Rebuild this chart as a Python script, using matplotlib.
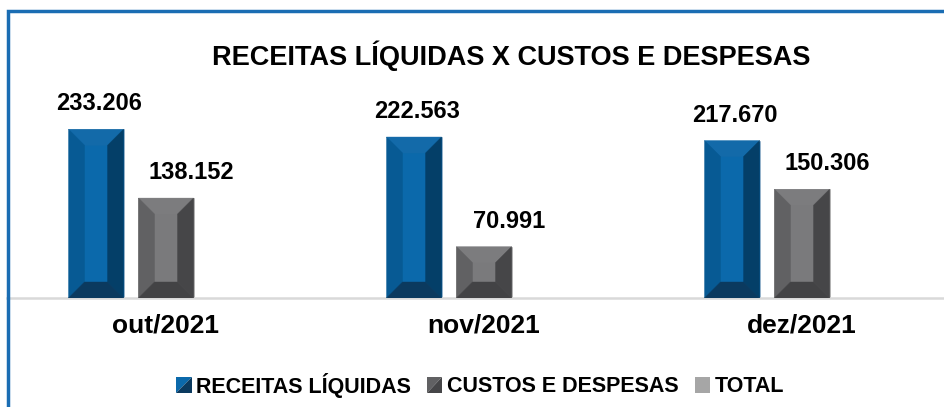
import numpy as np
import matplotlib
matplotlib.use("Agg")
import matplotlib.pyplot as plt
from matplotlib.patches import Polygon, Rectangle
from matplotlib.legend_handler import HandlerPatch

plt.rcParams['font.family'] = ['Liberation Sans', 'DejaVu Sans']
plt.rcParams['font.weight'] = 'bold'

# dados
meses = ['out/2021', 'nov/2021', 'dez/2021']
receitas = [233.206, 222.563, 217.670]
custos = [138.152, 70.991, 150.306]
series = ['RECEITAS LÍQUIDAS', 'CUSTOS E DESPESAS', 'TOTAL']
titulo = 'RECEITAS LÍQUIDAS X CUSTOS E DESPESAS'

# cores das faces do bisel: centro, topo, esquerda, direita, base
cores_azul = ['#0b69ab', '#136aa9', '#075a94', '#043f68', '#0b3a5f']
cores_cinza = ['#7a7a7c', '#7c7c7e', '#616163', '#464648', '#434345']
cor_total = '#a6a6a6'

W, H = 945, 407
fig = plt.figure(figsize=(W / 100, H / 100), dpi=100)

# moldura azul (cortada a direita e embaixo)
fig.patches.append(Rectangle((8 / W, -0.1), 1.2, (H - 11) / H + 0.1,
                             transform=fig.transFigure, fill=False,
                             edgecolor='#1a6db3', linewidth=2.5))

ax = fig.add_axes([7 / W, 109 / H, 954 / W, 218 / H])
ax.set_xlim(-0.5, 2.5)
ax.set_ylim(0, 301.4)
for s in ['top', 'right', 'left']:
    ax.spines[s].set_visible(False)
ax.spines['bottom'].set_color('#d9d9d9')
ax.spines['bottom'].set_linewidth(1.8)
ax.set_yticks([])
x = np.arange(len(meses))
ax.set_xticks(x)
ax.set_xticklabels(meses, fontsize=19, fontweight='bold')
ax.tick_params(axis='x', length=0, pad=11)

passo = 0.22
largura = 0.173
b_azul = ax.bar(x - passo, receitas, largura, color=cores_azul[0],
                edgecolor='#9fb3c8', linewidth=0.5)
b_cinza = ax.bar(x, custos, largura, color=cores_cinza[0],
                 edgecolor='#b0b0b0', linewidth=0.5)


def bisel(ax, barra, cores, b=16):
    # desenha as faces chanfradas em pixels e volta para dados
    x0, y0 = barra.get_x(), barra.get_y()
    x1, y1 = x0 + barra.get_width(), y0 + barra.get_height()
    (px0, py0), (px1, py1) = ax.transData.transform([(x0, y0), (x1, y1)])
    faces = [
        [(px0 + b, py1 - b), (px1 - b, py1 - b), (px1 - b, py0 + b), (px0 + b, py0 + b)],
        [(px0, py1), (px1, py1), (px1 - b, py1 - b), (px0 + b, py1 - b)],
        [(px0, py0), (px0, py1), (px0 + b, py1 - b), (px0 + b, py0 + b)],
        [(px1, py0), (px1, py1), (px1 - b, py1 - b), (px1 - b, py0 + b)],
        [(px0, py0), (px1, py0), (px1 - b, py0 + b), (px0 + b, py0 + b)],
    ]
    inv = ax.transData.inverted()
    for pts, c in zip(faces, cores):
        ax.add_patch(Polygon(inv.transform(pts), closed=True, facecolor=c,
                             edgecolor=c, linewidth=0.3, zorder=3))


for barra in b_azul:
    bisel(ax, barra, cores_azul)
for barra in b_cinza:
    bisel(ax, barra, cores_cinza)

for xi, v in zip(x - passo, receitas):
    ax.annotate(f'{v:.3f}', (xi, v), xytext=(2, 10), textcoords='offset points',
                ha='center', va='bottom', fontsize=17, fontweight='bold')
for xi, v in zip(x, custos):
    ax.annotate(f'{v:.3f}', (xi, v), xytext=(18, 10), textcoords='offset points',
                ha='center', va='bottom', fontsize=17, fontweight='bold')

fig.text(511 / W, 1 - 56 / H, titulo, ha='center', va='center',
         fontsize=19.5, fontweight='bold')


class HandlerDiagonal(HandlerPatch):
    def __init__(self, c1, c2):
        super().__init__()
        self.c1, self.c2 = c1, c2

    def create_artists(self, legend, orig_handle, xdescent, ydescent,
                       width, height, fontsize, trans):
        x0, y0 = -xdescent, -ydescent
        t1 = Polygon([(x0, y0), (x0, y0 + height), (x0 + width, y0 + height)],
                     facecolor=self.c1, edgecolor='none', transform=trans)
        t2 = Polygon([(x0, y0), (x0 + width, y0), (x0 + width, y0 + height)],
                     facecolor=self.c2, edgecolor='none', transform=trans)
        return [t1, t2]


h1 = Rectangle((0, 0), 1, 1, facecolor=cores_azul[0])
h2 = Rectangle((0, 0), 1, 1, facecolor=cores_cinza[0])
h3 = Rectangle((0, 0), 1, 1, facecolor=cor_total)
fig.legend([h1, h2, h3], series, loc='center', bbox_to_anchor=(480 / W, 1 - 385 / H),
           ncol=3, frameon=False, handlelength=0.72, handleheight=0.72,
           handletextpad=0.2, columnspacing=0.75, prop={'weight': 'bold', 'size': 15.5},
           handler_map={h1: HandlerDiagonal(cores_azul[0], cores_azul[4]),
                        h2: HandlerDiagonal(cores_cinza[2], cores_cinza[3])})

fig.savefig('out.png', dpi=100)
